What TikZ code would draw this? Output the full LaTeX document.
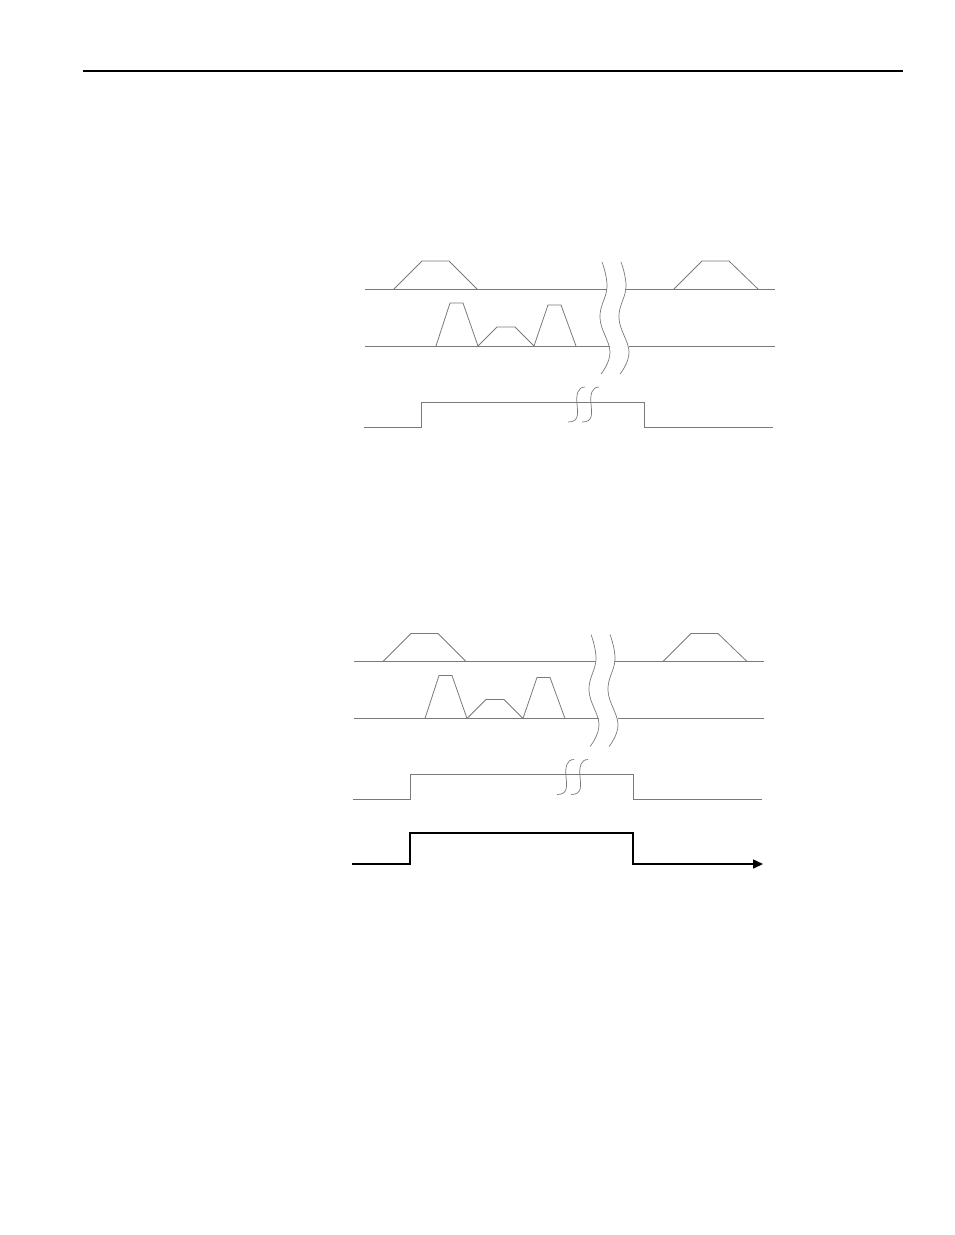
\documentclass[tikz,border=0pt]{standalone}
\usepackage{tikz}
\usetikzlibrary{arrows.meta}
\definecolor{TraceGray}{HTML}{7A7A7A}

\begin{document}
\begin{tikzpicture}[x=1pt, y=-1pt,
    trace/.style={draw=TraceGray, line width=0.8pt, line join=miter},
    brk/.style={draw=TraceGray, line width=0.7pt},
    outsig/.style={draw=black, line width=1.5pt},
    headrule/.style={draw=black, line width=1.5pt}
  ]
  \useasboundingbox (0,0) rectangle (954,1235);
  \draw[headrule] (83,71) -- (903,71);

  % the two timing groups, second one moved down
  \foreach \dx/\dy in {0/0, -11/372.5}{
    \begin{scope}[shift={(\dx,\dy)}]
      % first trace
      \draw[trace] (365,289) -- (607,289);
      \draw[trace] (625,289) -- (775,289);
      \draw[trace] (394,289) -- (422,261) -- (449,261) -- (477,289);
      \draw[trace] (674,289) -- (702,261) -- (729,261) -- (758,289);
      % second trace
      \draw[trace] (365,346) -- (610,346);
      \draw[trace] (629,346) -- (775,346);
      \draw[trace] (436,346) -- (450,303) -- (463,303) -- (478,346) -- (497,327)
        -- (515,327) -- (534,346) -- (548,305) -- (561,305) -- (576,346);
      % wavy break
      \draw[brk] plot[smooth, tension=0.7] coordinates {(602,262) (607,287) (600,318) (610,352) (601,374)};
      \draw[brk] plot[smooth, tension=0.7] coordinates {(621,262) (626,287) (619,318) (629,352) (620,374)};
      % gate trace
      \draw[trace] (364,427) -- (421,427) -- (421,402) -- (644,402) -- (644,427) -- (773,427);
      \draw[brk] (585,387) .. controls (578,387) and (576,394) .. (577,404)
        .. controls (578,414) and (579,422) .. (568,422);
      \draw[brk] (599,387) .. controls (592,387) and (590,394) .. (591,404)
        .. controls (592,414) and (593,422) .. (582,422);
    \end{scope}
  }

  % output signal
  \draw[outsig, -{Triangle[length=10pt, width=9pt]}] (352,864) -- (410,864) -- (410,833)
    -- (633,833) -- (633,864) -- (763,864);
\end{tikzpicture}
\end{document}
